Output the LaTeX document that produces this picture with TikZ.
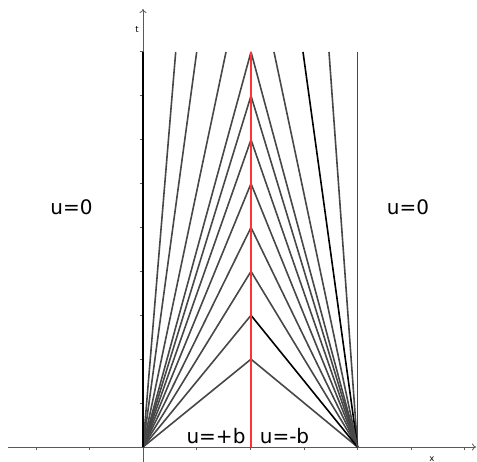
\documentclass[tikz,border=0pt]{standalone}
\usepackage{fontspec}
\setmainfont{DejaVu Sans}
\usetikzlibrary{arrows.meta}
\begin{document}
\begin{tikzpicture}[x=1pt,y=-1pt,
  axisline/.style={draw=black!65, line width=0.8pt},
  tickmark/.style={draw=black!65, line width=0.8pt},
  fanline/.style={draw=black!72, line width=1.6pt},
  darkline/.style={draw=black, line width=1.6pt},
  redline/.style={draw=red!80!white, line width=1.6pt},
  biglabel/.style={font=\fontsize{20}{20}\selectfont, inner sep=0pt},
  smalllabel/.style={font=\fontsize{8.5}{8.5}\selectfont, inner sep=0pt}]
\useasboundingbox (0,0) rectangle (477,462);
% axes
\coordinate (xs) at (8,447);
\coordinate (xe) at (476,447);
\coordinate (ys) at (143,462);
\coordinate (ye) at (143,9);
\draw[axisline,-{To[length=4pt,width=7pt]}] (xs) -- (xe);
\draw[axisline,-{To[length=4pt,width=7pt]}] (ys) -- (ye);
\foreach \x in {36,89.5,196.5,250,304,357.5,411,464.5}
  \draw[tickmark] (\x,447) -- (\x,450);
\foreach \k in {1,...,9}
  \draw[tickmark] (140,{447-\k*43.9}) -- (143,{447-\k*43.9});
\node[smalllabel] (tl) at (137,30) {t};
\node[smalllabel] (xl) at (432,459) {x};
% bases and tops
\coordinate (L) at (143,447);
\coordinate (R) at (357.5,447);
\coordinate (LT0) at (143,52);
\coordinate (LT1) at (175.7,52);
\coordinate (LT2) at (196.7,52);
\coordinate (LT3) at (226,52);
\coordinate (RT0) at (357.5,52);
\coordinate (RT1) at (329,52);
\coordinate (RT2) at (303,52);
\coordinate (RT3) at (274,52);
\foreach \k in {2,...,9}
  \coordinate (P\k) at (251,{447-\k*43.9});
\coordinate (Rb) at (251,447);
% fan lines
\foreach \k in {2,...,9}
  \draw[fanline] (L) -- (P\k);
\foreach \k in {2,4,5,6,7,8,9}
  \draw[fanline] (R) -- (P\k);
\draw[darkline] (R) -- (P3);
\draw[fanline] (L) -- (LT1);
\draw[fanline] (L) -- (LT2);
\draw[fanline] (L) -- (LT3);
\draw[darkline] (L) -- (LT0);
\draw[fanline] (R) -- (RT0);
\draw[fanline] (R) -- (RT1);
\draw[darkline] (R) -- (RT2);
\draw[fanline] (R) -- (RT3);
% red line
\draw[redline] (Rb) -- (P9);
% labels
\node[biglabel] (u0l) at (71.5,207) {u=0};
\node[biglabel] (u0r) at (408,207) {u=0};
\node[biglabel, anchor=base] (upb) at (216,443) {u=+b};
\node[biglabel, anchor=base] (umb) at (284.5,443) {u=-b};
\end{tikzpicture}
\end{document}
